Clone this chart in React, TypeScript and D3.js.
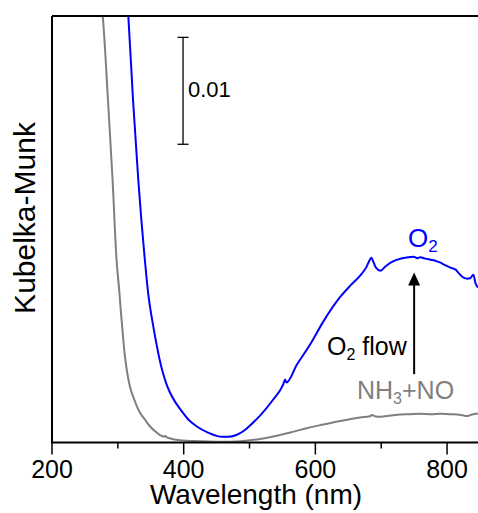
import React from 'react';
import * as d3 from 'd3';

// wavelength (nm) and Kubelka-Munk values
const grayWl = [271, 277, 285, 292, 298, 302, 305, 308, 311, 314, 317, 320, 325, 329, 334, 341, 349, 357, 364, 369, 372, 374, 376, 394, 425, 455, 486, 516, 536, 562, 588, 612, 638, 668, 683, 686, 692, 699, 714, 729, 744, 759, 775, 790, 805, 816, 825, 831, 838, 847];
const grayKM = [0.0423, 0.0399, 0.03206, 0.02458, 0.0171, 0.0143, 0.01196, 0.00981, 0.00794, 0.00664, 0.00561, 0.00486, 0.00402, 0.00336, 0.00275, 0.00215, 0.0015, 0.00103, 0.0007, 0.00056, 0.0006, 0.00049, 0.00045, 0.00021, 0.00012, 0.00007, 0.00012, 0.00033, 0.00056, 0.00093, 0.00136, 0.00168, 0.00201, 0.00234, 0.00246, 0.00257, 0.00243, 0.00241, 0.00252, 0.00262, 0.00265, 0.00268, 0.00265, 0.00269, 0.00264, 0.00262, 0.00252, 0.00248, 0.00262, 0.00271];

const blueWl = [313, 316, 323, 331, 341, 346, 354, 360, 364, 369, 373, 379, 387, 395, 407, 420, 437, 458, 468, 480, 492, 504, 516, 536, 551, 554, 556, 572, 592, 612, 638, 653, 668, 677, 682, 685, 688, 692, 699, 706, 717, 732, 741, 749, 755, 759, 767, 775, 782, 790, 797, 805, 813, 817, 825, 831, 835, 840, 843, 847];
const blueKM = [0.0423, 0.0398, 0.0321, 0.0246, 0.0171, 0.0140, 0.0108, 0.0088, 0.0076, 0.0064, 0.0056, 0.0047, 0.0038, 0.0031, 0.00215, 0.0015, 0.00093, 0.00053, 0.00053, 0.0007, 0.00112, 0.00178, 0.00252, 0.00402, 0.00542, 0.00589, 0.00561, 0.00729, 0.00916, 0.01131, 0.01364, 0.01467, 0.01561, 0.01636, 0.01701, 0.01729, 0.01692, 0.01636, 0.01607, 0.01645, 0.01692, 0.01724, 0.01734, 0.01738, 0.01724, 0.01734, 0.0172, 0.0171, 0.01701, 0.01682, 0.01659, 0.01636, 0.01617, 0.01589, 0.01542, 0.01533, 0.01537, 0.0157, 0.01495, 0.01449];

const majorTicks = [200, 400, 600, 800];
const minorTicks = [300, 500, 700];

const W = 478;
const H = 513;
const margin = { top: 16, right: 0, bottom: 70, left: 52 };
const font = 'Arial, "Liberation Sans", sans-serif';

export default function App() {
  const x = d3.scaleLinear().domain([200, 847]).range([margin.left, W - margin.right]);
  const y = d3.scaleLinear().domain([0, 0.0399]).range([H - margin.bottom - 0.5, margin.top]);
  const line = d3.line<[number, number]>().x(d => x(d[0])).y(d => y(d[1])).curve(d3.curveMonotoneX);
  const gray = grayWl.map((w, i) => [w, grayKM[i]] as [number, number]);
  const blue = blueWl.map((w, i) => [w, blueKM[i]] as [number, number]);
  const x0 = margin.left, x1 = W - margin.right, yb = y(0), yt = margin.top;

  // scale bar and arrow positions in data units
  const barX = x(399), barTop = y(0.0379), barBot = y(0.0279);
  const arrX = x(750), arrTip = y(0.0159), arrBase = y(0.0064);

  return (
    <svg width={W} height={H} style={{ position: 'absolute', left: 0, top: 0 }} fontFamily={font}>
      <defs>
        <clipPath id="plot">
          <rect x={x0} y={yt} width={x1 - x0} height={yb - yt} />
        </clipPath>
      </defs>
      <rect width={W} height={H} fill="#fff" />
      <g clipPath="url(#plot)" fill="none" strokeWidth={2} strokeLinejoin="round">
        <path d={line(gray) || ''} stroke="#7f7f7f" />
        <path d={line(blue) || ''} stroke="#0000ff" />
      </g>
      {/* axes frame */}
      <line x1={x0} x2={x1} y1={yt} y2={yt} stroke="#000" strokeWidth={2} />
      <line x1={x0} x2={x0} y1={yt} y2={yb} stroke="#000" strokeWidth={2} />
      <line x1={x0 - 1} x2={x1} y1={yb} y2={yb} stroke="#000" strokeWidth={2} />
      {majorTicks.map(t => (
        <g key={t}>
          <line x1={x(t)} x2={x(t)} y1={yb} y2={yb + 12} stroke="#000" strokeWidth={1.5} />
          <text x={x(t)} y={478} textAnchor="middle" fontSize={25}>{t}</text>
        </g>
      ))}
      {minorTicks.map(t => (
        <line key={t} x1={x(t)} x2={x(t)} y1={yb} y2={yb + 6} stroke="#000" strokeWidth={1.5} />
      ))}
      <text x={256} y={504} textAnchor="middle" fontSize={28}>Wavelength (nm)</text>
      <text transform={`translate(35,218) rotate(-90)`} textAnchor="middle" fontSize={30}>Kubelka-Munk</text>

      {/* 0.01 scale bar */}
      <g stroke="#000" strokeWidth={1.3}>
        <line x1={barX} x2={barX} y1={barTop} y2={barBot} />
        <line x1={barX - 5.5} x2={barX + 5.5} y1={barTop} y2={barTop} />
        <line x1={barX - 5.5} x2={barX + 5.5} y1={barBot} y2={barBot} />
      </g>
      <text x={188} y={97} fontSize={22}>0.01</text>

      {/* O2 flow arrow */}
      <line x1={arrX} x2={arrX} y1={arrBase} y2={arrTip + 10} stroke="#000" strokeWidth={2} />
      <path d={`M${arrX},${arrTip} L${arrX - 6},${arrTip + 13} L${arrX + 6},${arrTip + 13} Z`} fill="#000" />

      <text x={408} y={247} fontSize={26} fill="#0000ff">
        O<tspan fontSize={17} dy={5}>2</tspan>
      </text>
      <text x={327} y={355} fontSize={25} fill="#000">
        O<tspan fontSize={16} dy={5}>2</tspan><tspan dy={-5}> flow</tspan>
      </text>
      <text x={357} y={399} fontSize={25} fill="#7f7f7f">
        NH<tspan fontSize={16} dy={5}>3</tspan><tspan dy={-5}>+NO</tspan>
      </text>
    </svg>
  );
}
